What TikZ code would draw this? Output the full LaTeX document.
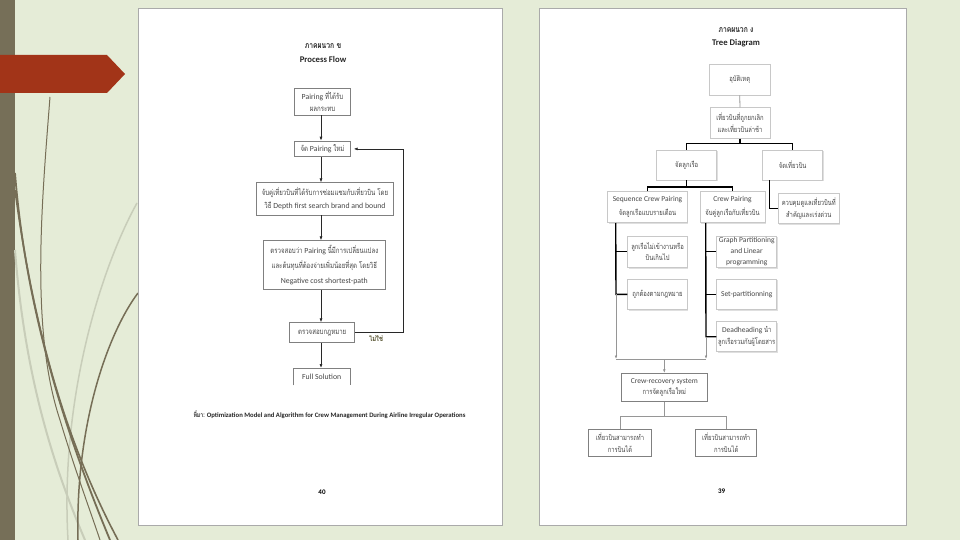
\documentclass[tikz,border=0pt]{standalone}
\usepackage{fontspec}
\setmainfont{Carlito}
\newfontfamily\thaifont[Script=Thai,Scale=1.0,FakeStretch=0.78]{Loma}
\newcommand\thx[1]{{\thaifont #1}}
\usetikzlibrary{arrows.meta,shadows,calc}
\definecolor{bgc}{RGB}{229,236,215}
\definecolor{stripc}{RGB}{118,111,88}
\definecolor{redc}{RGB}{162,52,24}
\definecolor{curvec}{RGB}{118,110,86}
\definecolor{curvel}{RGB}{200,205,185}
\definecolor{pageb}{RGB}{170,170,170}
\definecolor{boxgray}{RGB}{128,128,128}
\definecolor{lightbox}{RGB}{200,200,200}
\definecolor{txt}{RGB}{70,70,70}
\definecolor{arrc}{RGB}{40,40,40}
\definecolor{thin}{RGB}{150,150,150}
\definecolor{noc}{RGB}{80,76,40}
\begin{document}
\begin{tikzpicture}[x=1pt,y=-1pt,
  pf/.style={draw=boxgray, line width=0.7pt, fill=white, align=center, inner sep=0pt, text=txt, font=\fontsize{7.8}{12}\selectfont},
  tb/.style={draw=lightbox, line width=0.6pt, fill=white, align=center, inner sep=0pt, text=txt, font=\fontsize{7.5}{11.7}\selectfont,
    drop shadow={shadow xshift=1pt, shadow yshift=-1.2pt, opacity=0.25}},
  tbd/.style={draw=boxgray, line width=0.7pt, fill=white, align=center, inner sep=0pt, text=txt, font=\fontsize{7.5}{11.7}\selectfont},
  arr/.style={draw=arrc, line width=0.7pt, -{Latex[length=4pt,width=3pt]}},
  tk/.style={draw=black, line width=1.4pt},
  tn/.style={draw=thin, line width=0.8pt},
  tnarr/.style={draw=thin, line width=0.8pt, -{Latex[length=3.5pt,width=2.6pt,fill=black]}},
  ttl/.style={inner sep=0pt, font=\fontsize{8.7}{10}\selectfont\bfseries, text=black!85},
  pagen/.style={draw=pageb, line width=0.5pt, fill=white}
]
\useasboundingbox (0,0) rectangle (960,540);
% background
\fill[bgc] (0,0) rectangle (960,540);
\fill[stripc] (0,0) rectangle (15,540);
% decorative curves
\draw[curvel, line width=2pt] (15,250) .. controls (25,380) and (55,470) .. (85,540);
\draw[curvel, line width=1.5pt] (137,203) .. controls (100,270) and (60,400) .. (68,540);
\draw[curvec, line width=1pt] (50,97) .. controls (42,200) and (30,330) .. (60,420) .. controls (75,470) and (90,510) .. (100,540);
\draw[curvec, line width=1.8pt] (15,173) .. controls (25,300) and (60,420) .. (110,540);
\draw[curvec, line width=1.6pt] (15,190) .. controls (35,340) and (70,450) .. (118,540);
\draw[curvec, line width=1.5pt] (138,293) .. controls (110,330) and (75,420) .. (78,540);
% red arrow
\fill[redc] (0,55) -- (107,55) -- (125,74) -- (107,93) -- (0,93) -- cycle;
% pages
\draw[pagen] (138,8) rectangle (502,525);
\draw[pagen] (539,8) rectangle (906,525);

% ===== left page: Process Flow =====
\node[ttl] (t1) at (323,46) {\thaifont ภาคผนวก ข};
\node[ttl] (t2) at (323,59) {Process Flow};
\node[pf, minimum width=55.6, minimum height=26.7] (b1) at (322.5,101.7) {Pairing \thx{ที่ได้รับ}\\\thx{ผลกระทบ}};
\node[pf, minimum width=55.6, minimum height=15.7] (b2) at (322.5,148.9) {\thx{จัด} Pairing \thx{ใหม่}};
\node[pf, minimum width=137.4, minimum height=32.3, font=\fontsize{7.8}{13}\selectfont] (b3) at (325,198.9) {\thx{จับคู่เที่ยวบินที่ได้รับการซ่อมแซมกับเที่ยวบิน โดย}\\\thx{วิธี} Depth first search brand and bound};
\node[pf, minimum width=122.7, minimum height=48.6, font=\fontsize{7.8}{15}\selectfont] (b4) at (324.3,265) {\thx{ตรวจสอบว่า} Pairing \thx{นี้มีการเปลี่ยนแปลง}\\\thx{และต้นทุนที่ต้องจ่ายเพิ่มน้อยที่สุด โดยวิธี}\\Negative cost shortest-path};
\node[pf, minimum width=65, minimum height=20] (b5) at (322.2,332.7) {\thx{ตรวจสอบกฎหมาย}};
\node[pf, draw=none, minimum width=56, minimum height=16.7] (b6) at (321.7,376.7) {Full Solution};
\draw[boxgray, line width=0.7pt] (b6.south west) -- (b6.north west) -- (b6.north east) -- (b6.south east);
\coordinate (ax) at (321,0);
\draw[arr] (ax |- b1.south) -- (ax |- b2.north);
\draw[arr] (ax |- b2.south) -- (ax |- b3.north);
\draw[arr] (ax |- b3.south) -- (ax |- b4.north);
\draw[arr] (ax |- b4.south) -- (ax |- b5.north);
\draw[arr] (ax |- b5.south) -- (ax |- b6.north);
\coordinate (lp) at (403,148.9);
\draw[arr, shorten >=3pt] (b5.east) -| (lp) -- (b2.east);
\node[inner sep=0pt, text=noc, font=\fontsize{7.5}{9}\selectfont\bfseries] (no) at (376,339) {\thaifont ไม่ใช่};
\node[inner sep=0pt, text=black!85, font=\fontsize{6.7}{8}\selectfont\bfseries] (cap) at (329.5,415) {\thx{ที่มา:} Optimization Model and Algorithm for Crew Management During Airline Irregular Operations};
\node[inner sep=0pt, font=\fontsize{7}{8}\selectfont\bfseries] (p40) at (322,492) {40};

% ===== right page: Tree Diagram =====
\node[ttl] (t3) at (736,30) {\thaifont ภาคผนวก ง};
\node[ttl] (t4) at (736,42.7) {Tree Diagram};
\node[tb, minimum width=60.7, minimum height=30.7] (A) at (739.7,79.7) {\thx{อุบัติเหตุ}};
\node[tb, minimum width=60, minimum height=30.6] (B) at (740,123) {\thx{เที่ยวบินที่ถูกยกเลิก}\\\thx{และเที่ยวบินล่าช้า}};
\node[tb, minimum width=60, minimum height=30] (C) at (686.7,165) {\thx{จัดลูกเรือ}};
\node[tb, minimum width=60, minimum height=30] (D) at (792.7,165) {\thx{จัดเที่ยวบิน}};
\node[tb, minimum width=79.6, minimum height=31, font=\fontsize{7.5}{14}\selectfont] (E) at (647.5,207.2) {Sequence Crew Pairing\\\thx{จัดลูกเรือแบบรายเดือน}};
\node[tb, minimum width=65, minimum height=31, font=\fontsize{7.5}{14}\selectfont] (F) at (732.5,207.2) {Crew Pairing\\\thx{จับคู่ลูกเรือกับเที่ยวบิน}};
\node[tb, minimum width=61, minimum height=30] (G) at (808.8,208.3) {\thx{ควบคุมดูแลเที่ยวบินที่}\\\thx{สำคัญและเร่งด่วน}};
\node[tb, minimum width=59.6, minimum height=31.3] (H) at (657.5,251.7) {\thx{ลูกเรือไม่เข้างานหรือ}\\\thx{บินเกินไป}};
\node[tb, minimum width=59.6, minimum height=30.6] (I) at (657.5,294.3) {\thx{ถูกต้องตามกฎหมาย}};
\node[tb, minimum width=60, minimum height=31.3, font=\fontsize{7.5}{11}\selectfont] (J) at (746.7,251.7) {Graph Partitioning\\and Linear\\programming};
\node[tb, minimum width=60, minimum height=30.6] (K) at (746.7,294.3) {Set-partitionning};
\node[tb, minimum width=60, minimum height=30] (L) at (746.7,336.7) {Deadheading \thx{นำ}\\\thx{ลูกเรือรวมกับผู้โดยสาร}};
\node[tbd, minimum width=86.7, minimum height=28.4] (M) at (664.3,387.5) {Crew-recovery system\\\thx{การจัดลูกเรือใหม่}};
\node[tbd, minimum width=63.4, minimum height=27.4] (N) at (620,443) {\thx{เที่ยวบินสามารถทำ}\\\thx{การบินได้}};
\node[tbd, minimum width=61, minimum height=27.4] (O) at (726.2,443) {\thx{เที่ยวบินสามารถทำ}\\\thx{การบินได้}};
\node[inner sep=0pt, font=\fontsize{7}{8}\selectfont\bfseries] (p39) at (721.7,491.7) {39};

% tree connectors
\draw[tn] (A.south) -- (B.north);
\coordinate (bj) at ($(B.south)+(0,5)$);
\draw[tk] (C.north) |- (bj) -| (D.north);
\draw[tk] (B.south) -- (bj);
\coordinate (cj) at ($(C.south)+(0,6.7)$);
\draw[tk] (E.north) |- (cj) -| (F.north);
\draw[tk] (C.south) -- (cj);
\draw[tk] ([xshift=7.3pt]D.south west) |- (G.west);
\coordinate (es) at (616,359);
\coordinate (fs) at (706,359);
\draw[tk] ([xshift=8.3pt]E.south west) -- (es |- I.west) -- (I.west);
\draw[tk] (es |- H.west) -- (H.west);
\draw[tnarr] (es |- I.west) -- (es);
\draw[tk] ([xshift=6pt]F.south west) -- (fs |- L.west) -- (L.west);
\draw[tk] (fs |- J.west) -- (J.west);
\draw[tk] (fs |- K.west) -- (K.west);
\draw[tnarr] (fs |- L.west) -- (fs);
\draw[tn] (es) -- (fs);
\draw[tnarr] (M.north |- es) -- (M.north);
\coordinate (mj) at ($(M.south)+(0,14.3)$);
\draw[tn] (M.south) -- (mj);
\draw[tn] (N.north) |- (mj) -| (O.north);
\end{tikzpicture}
\end{document}
